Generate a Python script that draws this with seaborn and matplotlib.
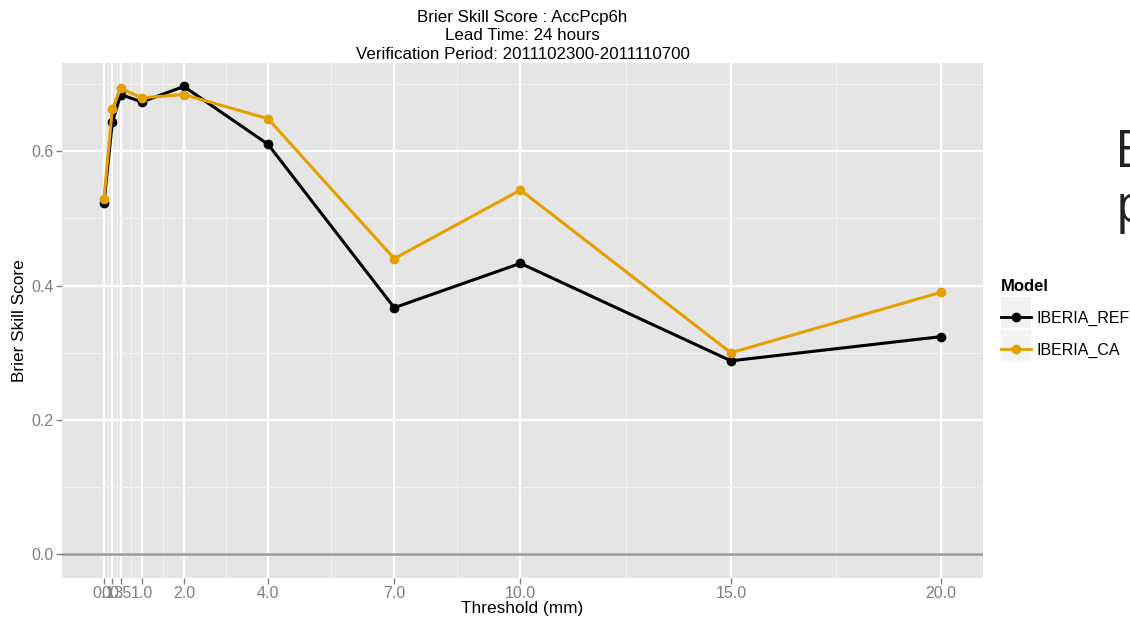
import numpy as np
import pandas as pd
import matplotlib
matplotlib.use("Agg")
import matplotlib.pyplot as plt
import seaborn as sns
from matplotlib.patches import Rectangle

# values
thresholds = [0.1, 0.3, 0.5, 1.0, 2.0, 4.0, 7.0, 10.0, 15.0, 20.0]
tick_labels = ["0.1", "0.3", "0.5", "1.0", "2.0", "4.0", "7.0", "10.0", "15.0", "20.0"]
bss_ref = [0.522, 0.643, 0.684, 0.673, 0.696, 0.610, 0.367, 0.433, 0.288, 0.324]
bss_ca = [0.528, 0.663, 0.693, 0.679, 0.684, 0.648, 0.440, 0.542, 0.300, 0.390]
models = ["IBERIA_REF", "IBERIA_CA"]
colors = ["#000000", "#E69F00"]

df = pd.DataFrame({
    "Threshold": thresholds * 2,
    "BSS": bss_ref + bss_ca,
    "Model": [models[0]] * len(thresholds) + [models[1]] * len(thresholds),
})

plt.rcParams['font.family'] = ['Liberation Sans', 'DejaVu Sans']

fig = plt.figure(figsize=(11.3, 6.23), dpi=100)
ax = fig.add_axes([0.0549, 0.0722, 0.8151, 0.8268])
ax.set_facecolor("#E5E5E5")

# ggplot style grid: minor lines midway between the breaks
xminor = [(a + b) / 2 for a, b in zip(thresholds[:-1], thresholds[1:])]
for x in xminor:
    ax.axvline(x, color="#F2F2F2", lw=0.8, zorder=0)
for x in thresholds:
    ax.axvline(x, color="white", lw=1.6, zorder=0)
for y in [0.1, 0.3, 0.5, 0.7]:
    ax.axhline(y, color="#F2F2F2", lw=0.8, zorder=0)
for y in [0.0, 0.2, 0.4, 0.6]:
    ax.axhline(y, color="white", lw=1.6, zorder=0)
ax.axhline(0.0, color="#999999", lw=1.8, zorder=1)

sns.lineplot(data=df, x="Threshold", y="BSS", hue="Model", palette=colors,
             marker="o", markersize=7, markeredgewidth=0, lw=2.2, ax=ax, legend=False)

ax.set_xlim(-0.895, 20.995)
ax.set_ylim(-0.035, 0.731)
ax.set_xticks(thresholds)
ax.set_xticklabels(tick_labels)
ax.set_yticks([0.0, 0.2, 0.4, 0.6])
ax.set_yticklabels(["0.0", "0.2", "0.4", "0.6"])
ax.tick_params(colors="#7F7F7F", labelsize=11.5, length=4, width=1, pad=2)
for s in ax.spines.values():
    s.set_visible(False)

ax.set_xlabel("Threshold (mm)", fontsize=12.4, labelpad=0)
ax.set_ylabel("Brier Skill Score", fontsize=12.4, labelpad=3)
ax.set_title("Brier Skill Score : AccPcp6h\nLead Time: 24 hours\nVerification Period: 2011102300-2011110700",
             fontsize=12.2, linespacing=1.3, pad=3)

# legend outside on the right
handles = [plt.Line2D([], [], color=c, lw=2, marker="o", markersize=6) for c in colors]
leg = fig.legend(handles, models, title="Model", loc="upper left",
                 bbox_to_anchor=(0.880, 0.562), frameon=False, fontsize=11.5,
                 handlelength=1.9, handletextpad=0.35, labelspacing=1.05,
                 borderaxespad=0, alignment="left")
leg.get_title().set_fontweight("bold")
leg.get_title().set_fontsize(12)
for yb in [0.473, 0.421]:
    fig.patches.append(Rectangle((0.8855, yb), 0.0265, 0.05, transform=fig.transFigure,
                                 facecolor="#F2F2F2", edgecolor="none", zorder=0))

# slide text cut off at the right edge
fig.text(0.987, 0.755, "Better", fontsize=37, color="#222222", family="Open Sans",
         va="center", ha="left")
fig.text(0.987, 0.665, "performance", fontsize=37, color="#222222", family="Open Sans",
         va="center", ha="left")

fig.savefig("out.png", dpi=100)
